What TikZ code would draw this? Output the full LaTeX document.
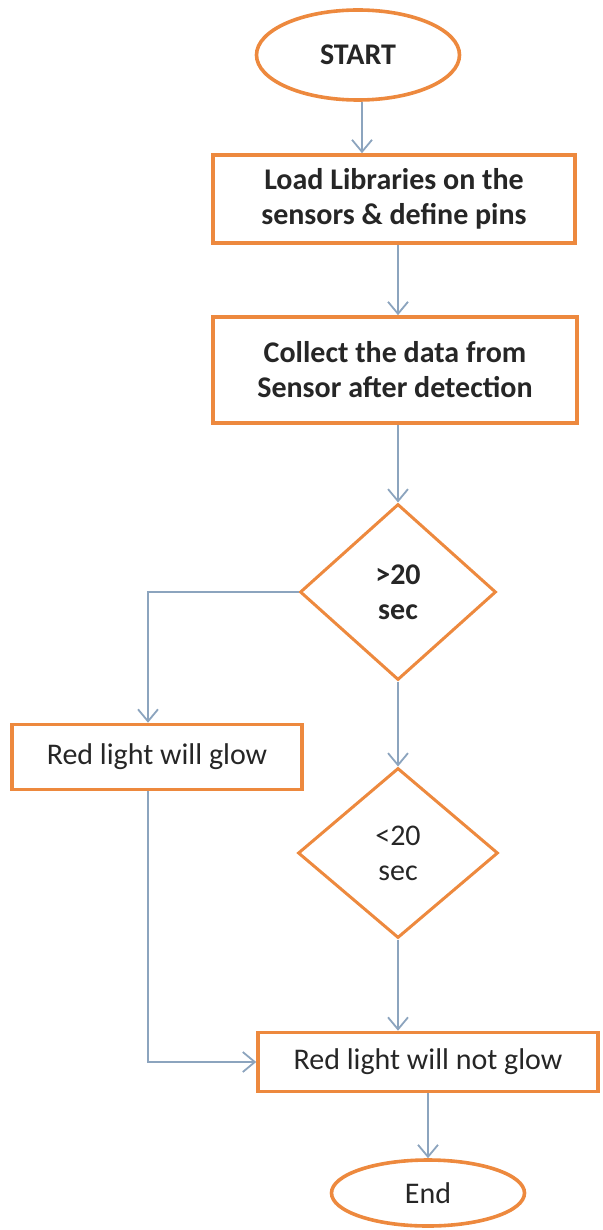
\documentclass[tikz,border=0pt]{standalone}
\usepackage{fontspec}
\setmainfont{Carlito}
\usetikzlibrary{positioning, arrows.meta, shapes.geometric}
\definecolor{floworange}{RGB}{237,137,62}
\definecolor{flowarrow}{RGB}{140,164,190}
\definecolor{flowtext}{RGB}{38,38,38}

\begin{document}
\begin{tikzpicture}[x=0.5pt, y=-0.5pt,
  every node/.style={align=center, font=\fontsize{15}{17.5}\selectfont, text=flowtext, inner sep=0pt},
  terminal/.style={draw=floworange, line width=1.8pt, ellipse},
  process/.style={draw=floworange, line width=1.8pt, rectangle},
  decision/.style={draw=floworange, line width=1.5pt, diamond},
  arr/.style={draw=flowarrow, line width=0.9pt, -{Straight Barb[length=6pt, width=10pt]}}]
  \useasboundingbox (0,0) rectangle (602,1230);
  \node[terminal, minimum width=101.5pt, minimum height=45pt] (start) at (358,55)
    {\textbf{START}};
  \node[process, minimum width=181pt, minimum height=44pt] (load) at (394,199)
    {\textbf{Load Libraries on the}\\\textbf{sensors \& define pins}};
  \node[process, minimum width=182pt, minimum height=53pt] (collect) at (395,370)
    {\textbf{Collect the data from}\\\textbf{Sensor after detection}};
  \node[decision, minimum width=98pt, minimum height=88pt] (gt) at (398,592)
    {\textbf{>20}\\\textbf{sec}};
  \node[process, minimum width=145pt, minimum height=32.5pt] (glow) at (157,757)
    {Red light will glow};
  \node[decision, minimum width=100pt, minimum height=85pt] (lt) at (398,853)
    {<20\\sec};
  \node[process, minimum width=170pt, minimum height=29.5pt] (notglow) at (428,1062)
    {Red light will not glow};
  \node[terminal, minimum width=96.5pt, minimum height=33pt] (stop) at (428,1193)
    {End};
  \coordinate (glowin) at ([xshift=-4.5pt]glow.north);
  \coordinate (glowout) at ([xshift=-4.5pt]glow.south);
  \draw[arr] ([xshift=2pt]start.south) -- ([xshift=2pt]start.south |- load.north);
  \draw[arr] (gt.north |- load.south) -- (gt.north |- collect.north);
  \draw[arr] (gt.north |- collect.south) -- (gt);
  \draw[arr] (gt) -| (glowin);
  \draw[arr] (gt) -- (lt);
  \draw[arr] (lt) -- (lt |- notglow.north);
  \draw[arr] (glowout) |- (notglow);
  \draw[arr] (notglow) -- (stop);
\end{tikzpicture}
\end{document}
